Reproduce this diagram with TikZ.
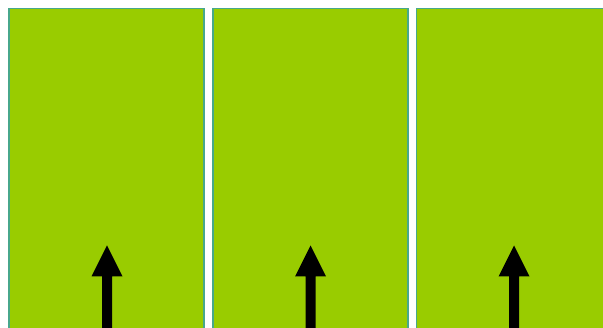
\documentclass[tikz,border=0pt]{standalone}
\begin{document}
\begin{tikzpicture}[x=1pt,y=-1pt]
\definecolor{panelgreen}{RGB}{153,204,0}
\definecolor{panelborder}{RGB}{72,168,140}
\tikzset{panel/.style={fill=panelgreen,draw=panelborder,line width=1.6pt},
  uparrow/.style={fill=black,draw=none}}
\useasboundingbox (0,0) rectangle (603,328);
\fill[white] (0,0) rectangle (603,328);
\foreach \l/\r in {9/204, 213/408, 416.5/612}{
  \draw[panel] (\l,8.5) rectangle (\r,340);
}
\foreach \c in {107, 310.5, 514}{
  \fill[uparrow] (\c-5,340) -- (\c-5,276.5) -- (\c-15.5,276.5) -- (\c,245.5) -- (\c+15.5,276.5) -- (\c+5,276.5) -- (\c+5,340) -- cycle;
}
\end{tikzpicture}
\end{document}
